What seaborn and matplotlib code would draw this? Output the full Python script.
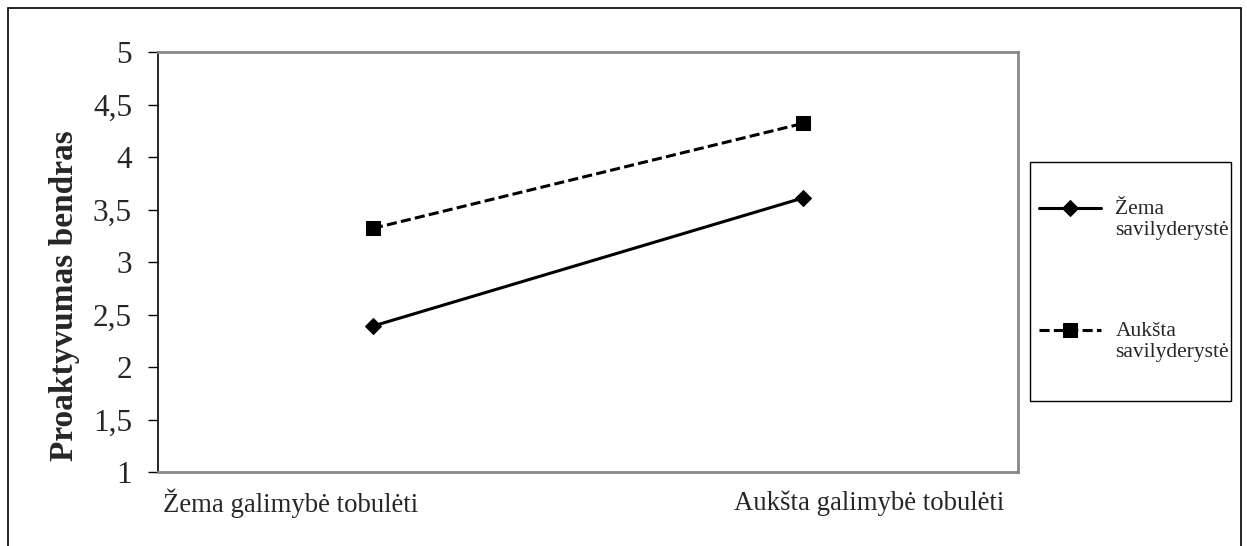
import numpy as np
import pandas as pd
import matplotlib.pyplot as plt
import seaborn as sns
from matplotlib.patches import Rectangle
from matplotlib.legend_handler import HandlerLine2D

sns.set_style("white")
plt.rcParams.update({"font.family": ["Liberation Serif", "DejaVu Serif"]})

# Data
categories = ["Žema galimybė tobulėti", "Aukšta galimybė tobulėti"]
groups = ["Žema\nsavilyderystė", "Aukšta\nsavilyderystė"]
low_values = [2.39, 3.61]
high_values = [3.32, 4.32]
y_ticks = [1, 1.5, 2, 2.5, 3, 3.5, 4, 4.5, 5]

df = pd.DataFrame({
    "Galimybė": categories * 2,
    "Grupė": [groups[0]] * 2 + [groups[1]] * 2,
    "Proaktyvumas": low_values + high_values,
})


# legend handle sits at the first text line, like in Excel
class RaisedHandler(HandlerLine2D):
    def create_artists(self, legend, orig_handle, xdescent, ydescent,
                       width, height, fontsize, trans):
        arts = super().create_artists(legend, orig_handle, xdescent, ydescent,
                                      width, height, fontsize, trans)
        for a in arts:
            a.set_ydata(np.asarray(a.get_ydata()) + 0.55 * fontsize)
        return arts


fig = plt.figure(figsize=(12.47, 5.46), dpi=100)
ax = fig.add_axes([158 / 1247, 1 - 472 / 546, 860 / 1247, 420 / 546])

sns.lineplot(
    data=df, x="Galimybė", y="Proaktyvumas", style="Grupė",
    markers={groups[0]: "D", groups[1]: "s"},
    dashes={groups[0]: "", groups[1]: (3.3, 1.4)},
    markersize=10, color="black", linewidth=2.2, ax=ax,
    markeredgecolor="black",
)
# diamonds a bit smaller than squares
ax.lines[0].set_markersize(8)

ax.set_xlim(-0.5, 1.5)
ax.set_ylim(1, 5)
ax.set_yticks(y_ticks)
ax.set_yticklabels([str(t).replace(".", ",") for t in y_ticks], fontsize=22.5)
ax.set_xticks([])
ax.set_xlabel("")
ax.set_ylabel("Proaktyvumas bendras", fontsize=24, fontweight="bold")
ax.yaxis.set_label_coords(-0.091, 0.421)
ax.tick_params(axis="y", direction="out", length=7.2, width=1, color="black", left=True, pad=11.5)

for side in ["top", "right", "bottom"]:
    ax.spines[side].set_color("#888888")
    ax.spines[side].set_linewidth(2)
ax.spines["left"].set_color("black")
ax.spines["left"].set_linewidth(1.2)

# category labels under the axis
ax.text(0.154, -0.075, categories[0], transform=ax.transAxes, ha="center", va="center", fontsize=19.3)
ax.text(0.827, -0.075, categories[1], transform=ax.transAxes, ha="center", va="center", fontsize=19.3)

# legend
handles, labels = ax.get_legend_handles_labels()
handles[0].set_markersize(8)
leg = ax.legend(
    handles, labels,
    loc="upper left", bbox_to_anchor=(1039 / 1247, 1 - 200 / 546),
    bbox_transform=fig.transFigure, frameon=False, fontsize=15.5,
    handlelength=2.9, handletextpad=0.65, labelspacing=3.8, borderpad=0,
    borderaxespad=0, handler_map={h: RaisedHandler() for h in handles},
)
for t in leg.get_texts():
    t.set_linespacing(1.15)

# legend box
fig.patches.append(Rectangle((1030 / 1247, 1 - 401 / 546), 201 / 1247, 239 / 546,
                             transform=fig.transFigure, fill=False,
                             edgecolor="black", linewidth=1))

# outer chart border
fig.patches.append(Rectangle((8 / 1247, -0.1), (1241 - 8) / 1247, 1 - 8 / 546 + 0.1,
                             transform=fig.transFigure, fill=False,
                             edgecolor="black", linewidth=1.2))

plt.savefig("out.png", dpi=100)
